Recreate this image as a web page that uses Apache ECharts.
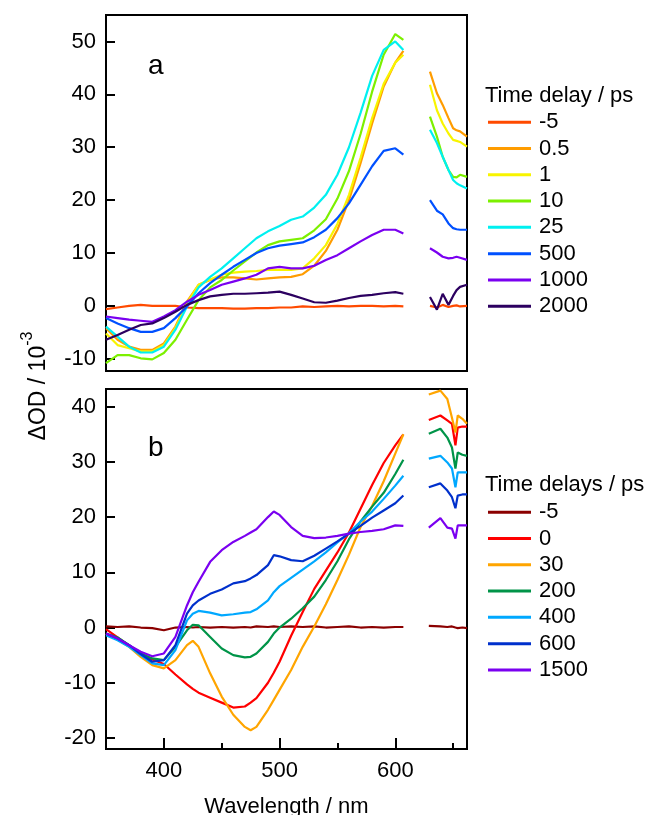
<!DOCTYPE html>
<html><head><meta charset="utf-8">
<script src="https://cdn.jsdelivr.net/npm/echarts@6/dist/echarts.min.js"></script>
<style>html,body{margin:0;padding:0;background:#fff}#c{width:654px;height:815px}</style>
</head><body><div id="c"></div>
<script>
// ---------- Panel a ----------
const WL_A = [350,360,370,380,390,400,410,420,430,440,450,460,470,480,490,500,510,520,530,540,550,560,570,580,590,600,607];
const WL_A_R = [630,636,641,646,650,653,656,662];
const NAMES_A = ['-5','0.5','1','10','25','500','1000','2000'];
const COLORS_A = ['#FF4A00','#FF9C00','#F8F400','#7CF000','#00F0F0','#0050FF','#7A00F0','#2C0060'];
const A_m5   = [-0.6,-0.3,0,0.2,0,0,0,-0.3,-0.4,-0.4,-0.4,-0.5,-0.5,-0.4,-0.4,-0.3,-0.3,-0.1,-0.2,-0.1,0,-0.1,0,0,-0.1,0,-0.1];
const A_05   = [-4.2,-6.4,-7.7,-8.3,-8.3,-7.1,-3.9,0.8,4,4.9,5.4,5.4,5.2,5,5.2,5.4,5.5,6,7.6,10.4,14.4,20,27,34.5,41.5,46,48.2];
const A_1    = [-5.2,-7.4,-8,-8.6,-8.6,-7.4,-4.2,0.5,4,5,5.9,6.3,6.5,6.6,6.8,6.8,6.8,7.1,9,11.5,15.5,21,28,35.5,42,46,47.5];
const A_10   = [-10.8,-9.3,-9.3,-9.9,-10.1,-8.9,-6.4,-2.6,1.1,3.5,4.9,6.7,8.4,10.1,11.5,12.2,12.5,12.8,14.3,16.4,20.3,25.5,32.5,40.5,47.5,51.4,50.3];
const A_25   = [-3.9,-5.8,-7.7,-8.8,-8.8,-7.7,-4.5,-0.1,3.5,5.5,7.1,9,10.9,12.8,14.1,15.1,16.3,16.9,18.6,21,24.8,30,36.5,43.5,48.4,50,48.4];
const A_500  = [-2.3,-3.3,-4.2,-4.9,-4.9,-4.2,-2.3,-0.1,2.4,4.3,5.9,7.4,8.7,10,10.9,11.4,11.7,12,13,14.4,16.6,19.4,22.9,26.4,29.3,29.8,28.6];
const A_1000 = [-2,-2.3,-2.6,-2.8,-3,-2,-0.8,0.8,2.1,3,4,4.6,5.2,5.9,7.1,7.4,7.1,7.1,7.6,8.7,9.6,10.9,12.2,13.4,14.4,14.4,13.7];
const A_2000 = [-6.4,-5.5,-4.5,-3.6,-3.3,-2.3,-1.1,0.2,1.1,1.8,2.1,2.3,2.3,2.4,2.5,2.7,2.1,1.4,0.7,0.6,1.0,1.5,1.9,2.1,2.4,2.6,2.3];
const AR_m5   = [0,-0.3,0.2,-0.2,0,0.1,-0.1,0];
const AR_05   = [44.3,40.2,38,35.5,33.6,33.2,33,32];
const AR_1    = [41.8,37,34.5,32.6,31.4,31.2,31,30.1];
const AR_10   = [35.8,32,28.2,25.7,24.4,24.3,24.8,24.4];
const AR_25   = [33.3,30.8,28.2,25.7,23.8,23.2,22.8,22.2];
const AR_500  = [20,18,17.3,15.6,14.7,14.5,14.4,14.4];
const AR_1000 = [10.9,10.1,9.3,9,9.1,9.3,9.1,8.7];
const AR_2000 = [1.7,-0.7,2.3,0.2,1.9,3,3.6,4];
const LEFT_A  = [A_m5,A_05,A_1,A_10,A_25,A_500,A_1000,A_2000];
const RIGHT_A = [AR_m5,AR_05,AR_1,AR_10,AR_25,AR_500,AR_1000,AR_2000];

// ---------- Panel b ----------
const WL_B = [350,360,370,380,390,400,410,420,425,430,440,450,460,470,475,480,490,495,500,510,520,530,540,550,560,570,580,590,600,607];
const WL_B_R = [629,639,645,649,652,654,658,662];
const NAMES_B = ['-5','0','30','200','400','600','1500'];
const COLORS_B = ['#8B0000','#FF0000','#FFA500','#009448','#00A8FF','#0030CC','#7A00F0'];
const B_m5   = [0.2,0.1,0.2,0,-0.1,-0.5,0,0.1,0,0.1,0,0.1,0,0.1,0,0.2,0.1,0.2,0.1,0.2,0.1,0.2,0,0.1,0.2,0,0.1,0,0.1,0.1];
const B_0    = [-0.3,-1.8,-3.3,-4.6,-5.8,-6.6,-8.5,-10.3,-11.1,-11.8,-12.7,-13.6,-14.5,-14.3,-13.6,-12.8,-10,-8.2,-6.2,-1.5,2.8,7,10.3,13.6,17.2,21.5,25.8,29.8,33,35];
const B_30   = [-1.1,-2.2,-3.5,-5.3,-6.8,-7.4,-5.9,-3.2,-2.4,-3.5,-8.3,-12.5,-15.8,-18,-18.6,-18,-14.9,-13.1,-11.3,-7.7,-3.5,0.2,4.2,8.6,13.2,18.2,22,26.5,31.5,35];
const B_200  = [-1.1,-1.8,-3.2,-4.7,-5.6,-5.9,-3.5,-0.5,0.5,0.4,-1.7,-3.8,-5,-5.4,-5.3,-4.7,-2.6,-1.1,0,1.6,3.5,5.6,8.6,12,16,19.2,21.9,24.4,27.8,30.4];
const B_400  = [-1.4,-2.3,-3.5,-5,-6.5,-6.8,-4.1,1.3,2.5,3,2.7,2.2,2.4,2.7,2.8,3.3,4.9,6.4,7.5,9,10.5,12,13.6,15.4,17.1,19.2,21,23.3,25.7,27.5];
const B_600  = [-1.1,-2,-3.2,-4.8,-6.2,-5.9,-3.2,2.5,4,4.9,6.1,6.9,8,8.4,8.9,9.5,11.3,13.1,12.9,12.2,12,13,14.3,15.6,17,18.4,19.9,21.2,22.5,23.9];
const B_1500 = [-1.1,-2,-3.2,-4.4,-5.2,-4.7,-1.7,4,6.4,8.3,11.9,14,15.5,16.6,17.2,17.8,20,21,20.4,18.2,16.6,16.2,16.3,16.6,17,17.3,17.5,17.8,18.5,18.4];
const BR_m5   = [0.3,0.2,0.1,0.2,0,-0.1,0,-0.1];
const BR_0    = [37.6,38.4,37.5,36.9,33,36.2,36.4,36.4];
const BR_30   = [42.2,42.9,41.4,38,35.3,38.4,37.8,36.9];
const BR_200  = [35.1,36,34.4,32.6,28.8,31.7,31.3,31.1];
const BR_400  = [30.6,31.1,29.9,28.8,25.4,28.1,28.1,28.1];
const BR_600  = [25.4,26.1,24.8,23.6,21.6,23.9,24.1,24.1];
const BR_1500 = [18.1,19.8,18.1,17.9,16.1,18.5,18.5,18.5];
const LEFT_B  = [B_m5,B_0,B_30,B_200,B_400,B_600,B_1500];
const RIGHT_B = [BR_m5,BR_0,BR_30,BR_200,BR_400,BR_600,BR_1500];

// ---------- Axes ticks ----------
const X_TICKS = [400,500,600];
const X_MINOR = [450,550,650];
const YA_TICKS = [-10,0,10,20,30,40,50];
const YB_TICKS = [-20,-10,0,10,20,30,40];

const FONT = 'Liberation Sans, Arial, sans-serif';
const zip = (xs, ys) => xs.map((x, i) => [x, ys[i]]);

const series = [];
function addPanel(prefix, names, colors, wl, wlR, left, right, gi) {
  names.forEach((n, i) => {
    const common = {
      type: 'line', name: prefix + n, xAxisIndex: gi === 0 ? 0 : 1, yAxisIndex: gi,
      symbol: 'none', showSymbol: false, animation: false, clip: true,
      color: colors[i], lineStyle: { width: 2.2, color: colors[i] }
    };
    series.push(Object.assign({}, common, { data: zip(wl, left[i]) }));
    series.push(Object.assign({}, common, { data: zip(wlR, right[i]) }));
  });
}
addPanel('a:', NAMES_A, COLORS_A, WL_A, WL_A_R, LEFT_A, RIGHT_A, 0);
addPanel('b:', NAMES_B, COLORS_B, WL_B, WL_B_R, LEFT_B, RIGHT_B, 1);

const axisLineBlack = { show: true, onZero: false, lineStyle: { color: '#000', width: 2 } };
const lab = { color: '#000', fontSize: 22, fontFamily: FONT };

const legendCommon = {
  orient: 'vertical', left: 488, padding: 0, itemWidth: 43, itemHeight: 3, itemGap: 4,
  icon: 'rect',
  textStyle: { color: '#000', fontSize: 22, fontFamily: FONT, lineHeight: 22.3, padding: [0, 0, 0, 3] },
  formatter: (name) => name.slice(2), selectedMode: false
};

const option = {
  backgroundColor: '#fff',
  animation: false,
  grid: [
    { left: 106, top: 15, width: 361, height: 356, show: true, borderColor: '#000', borderWidth: 2,
      containLabel: false, outerBoundsMode: 'none' },
    { left: 106, top: 389, width: 361, height: 360, show: true, borderColor: '#000', borderWidth: 2,
      containLabel: false, outerBoundsMode: 'none' }
  ],
  xAxis: [
    { type: 'value', gridIndex: 0, min: 350, max: 662, axisLine: axisLineBlack,
      axisTick: { show: false }, axisLabel: { show: false }, splitLine: { show: false } },
    { type: 'value', gridIndex: 1, position: 'bottom', min: 350, max: 662, axisLine: axisLineBlack,
      axisTick: { show: true, inside: true, length: 11, customValues: X_TICKS, lineStyle: { color: '#000', width: 2 } },
      axisLabel: Object.assign({ customValues: X_TICKS, margin: 11 }, lab),
      splitLine: { show: false },
      name: 'Wavelength / nm', nameLocation: 'middle', nameGap: 47,
      nameTextStyle: { color: '#000', fontSize: 22, fontFamily: FONT } },
    { type: 'value', gridIndex: 1, position: 'top', offset: -360, min: 350, max: 662,
      axisLine: { show: true, onZero: false, lineStyle: { color: '#000', width: 0, opacity: 0 } },
      axisTick: { show: true, inside: false, length: 6, customValues: X_MINOR, lineStyle: { color: '#000', width: 2 } },
      axisLabel: { show: false }, splitLine: { show: false } }
  ],
  yAxis: [
    { type: 'value', gridIndex: 0, min: -12.3, max: 55, axisLine: axisLineBlack,
      axisTick: { show: true, inside: true, length: 9, customValues: YA_TICKS, lineStyle: { color: '#000', width: 2 } },
      axisLabel: Object.assign({ customValues: YA_TICKS, margin: 10 }, lab), splitLine: { show: false } },
    { type: 'value', gridIndex: 1, min: -22, max: 43.2, axisLine: axisLineBlack,
      axisTick: { show: true, inside: true, length: 9, customValues: YB_TICKS, lineStyle: { color: '#000', width: 2 } },
      axisLabel: Object.assign({ customValues: YB_TICKS, margin: 10 }, lab), splitLine: { show: false } }
  ],
  legend: [
    Object.assign({}, legendCommon, { top: 111, data: NAMES_A.map(n => 'a:' + n) }),
    Object.assign({}, legendCommon, { top: 501, data: NAMES_B.map(n => 'b:' + n) })
  ],
  graphic: [
    { type: 'text', left: 148, top: 52, style: { text: 'a', fontSize: 28, fontFamily: FONT, fill: '#000' } },
    { type: 'text', left: 148, top: 434, style: { text: 'b', fontSize: 28, fontFamily: FONT, fill: '#000' } },
    { type: 'text', left: 485, top: 85, style: { text: 'Time delay / ps', fontSize: 22, fontFamily: FONT, fill: '#000' } },
    { type: 'text', left: 485, top: 474, style: { text: 'Time delays / ps', fontSize: 22, fontFamily: FONT, fill: '#000' } },
    { type: 'text', x: 35, y: 386, rotation: Math.PI / 2,
      style: { text: '{m|ΔOD / 10}{s|-3}', align: 'center', verticalAlign: 'middle', fill: '#000',
        rich: { m: { fontSize: 23, fontFamily: FONT, fill: '#000', verticalAlign: 'bottom', lineHeight: 30 },
                s: { fontSize: 16, fontFamily: FONT, fill: '#000', verticalAlign: 'top', lineHeight: 30 } } } }
  ],
  series: series
};
const chart = echarts.init(document.getElementById('c'), null, { renderer: 'canvas' });
chart.setOption(option);
</script>
</body></html>
